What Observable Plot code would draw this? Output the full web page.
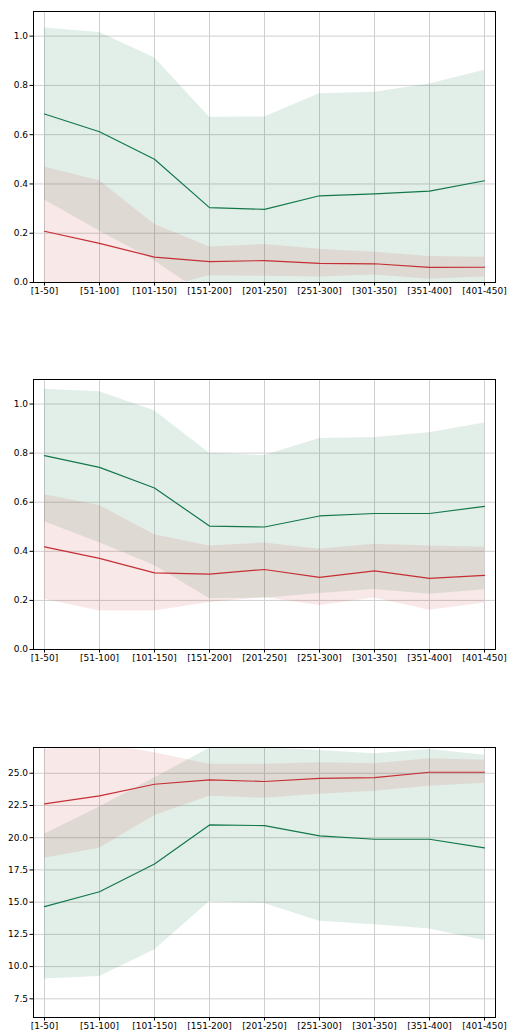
<!DOCTYPE html>
<html><head><meta charset="utf-8">
<script src="https://cdn.jsdelivr.net/npm/d3@7"></script>
<script src="https://cdn.jsdelivr.net/npm/@observablehq/plot@0.6"></script>
<style>body{margin:0;background:#fff} #c svg{display:block}</style></head>
<body><div id="c"></div>
<script>
const categories = ["[1-50]","[51-100]","[101-150]","[151-200]","[201-250]","[251-300]","[301-350]","[351-400]","[401-450]"];

// Panel 1
const p1GreenMean = [0.684,0.612,0.500,0.304,0.297,0.352,0.360,0.371,0.413];
const p1GreenLo   = [0.335,0.209,0.088,-0.063,-0.078,-0.062,-0.052,-0.064,-0.036];
const p1GreenHi   = [1.033,1.015,0.912,0.671,0.672,0.766,0.772,0.806,0.862];
const p1RedMean   = [0.208,0.159,0.103,0.085,0.089,0.078,0.076,0.061,0.062];
const p1RedLo     = [-0.053,-0.095,-0.030,0.027,0.025,0.022,0.030,0.013,0.022];
const p1RedHi     = [0.469,0.413,0.236,0.144,0.154,0.135,0.123,0.106,0.102];

// Panel 2
const p2GreenMean = [0.790,0.742,0.658,0.503,0.499,0.544,0.554,0.554,0.583];
const p2GreenLo   = [0.520,0.435,0.342,0.208,0.209,0.228,0.244,0.225,0.243];
const p2GreenHi   = [1.060,1.050,0.973,0.800,0.790,0.860,0.864,0.883,0.923];
const p2RedMean   = [0.418,0.371,0.312,0.307,0.326,0.294,0.320,0.290,0.302];
const p2RedLo     = [0.205,0.157,0.157,0.191,0.212,0.179,0.210,0.160,0.189];
const p2RedHi     = [0.630,0.587,0.468,0.422,0.434,0.408,0.429,0.422,0.417];

// Panel 3
const p3GreenMean = [14.65,15.81,17.96,20.99,20.94,20.14,19.88,19.88,19.21];
const p3GreenLo   = [9.03,9.23,11.28,15.04,14.90,13.51,13.25,12.91,12.03];
const p3GreenHi   = [20.27,22.38,24.64,26.94,26.98,26.77,26.51,26.85,26.40];
const p3RedMean   = [22.62,23.24,24.15,24.49,24.36,24.61,24.67,25.08,25.08];
const p3RedLo     = [18.40,19.18,21.71,23.21,23.06,23.37,23.60,23.99,24.22];
const p3RedHi     = [26.84,27.30,26.60,25.70,25.70,25.81,25.73,26.12,26.01];

const ticks01 = [0.0,0.2,0.4,0.6,0.8,1.0];
const ticks3  = [7.5,10.0,12.5,15.0,17.5,20.0,22.5,25.0];

const GREEN = "#13774a", RED = "#c42f33";
const GREEN_FILL = "rgb(20,120,70)", RED_FILL = "rgb(200,45,45)";

function panel(gm, glo, ghi, rm, rlo, rhi, yDomain, yTicks, height, mb) {
  const rows = categories.map((c, i) => ({c, gm: gm[i], glo: glo[i], ghi: ghi[i], rm: rm[i], rlo: rlo[i], rhi: rhi[i]}));
  return Plot.plot({
    width: 510, height, marginLeft: 33, marginRight: 15, marginTop: 11, marginBottom: mb,
    style: {fontFamily: "DejaVu Sans", fontSize: "9px", color: "#000", background: "#fff", overflow: "visible"},
    x: {type: "point", domain: categories, padding: 0.2},
    y: {domain: yDomain},
    marks: [
      Plot.gridX(categories, {stroke: "#cfcfcf", strokeOpacity: 1}),
      Plot.gridY(yTicks, {stroke: "#cfcfcf", strokeOpacity: 1}),
      Plot.areaY(rows, {x: "c", y1: "glo", y2: "ghi", fill: GREEN_FILL, fillOpacity: 0.12, clip: true}),
      Plot.areaY(rows, {x: "c", y1: "rlo", y2: "rhi", fill: RED_FILL, fillOpacity: 0.11, clip: true}),
      Plot.lineY(rows, {x: "c", y: "gm", stroke: GREEN, strokeWidth: 1.2, clip: true}),
      Plot.lineY(rows, {x: "c", y: "rm", stroke: RED, strokeWidth: 1.2, clip: true}),
      Plot.axisX({tickSize: 3.5, tickPadding: 2, label: null, stroke: "#000"}),
      Plot.axisY(yTicks, {tickSize: 3.5, tickPadding: 2, tickFormat: d3.format(".1f"), label: null, stroke: "#000"}),
      Plot.frame({stroke: "#000", strokeWidth: 1})
    ]
  });
}

const c = document.getElementById("c");
c.append(panel(p1GreenMean, p1GreenLo, p1GreenHi, p1RedMean, p1RedLo, p1RedHi, [0, 1.1], ticks01, 368, 86));
c.append(panel(p2GreenMean, p2GreenLo, p2GreenHi, p2RedMean, p2RedLo, p2RedHi, [0, 1.1], ticks01, 368, 87));
c.append(panel(p3GreenMean, p3GreenLo, p3GreenHi, p3RedMean, p3RedLo, p3RedHi, [6.05, 27.0], ticks3, 296, 15));
</script></body></html>
